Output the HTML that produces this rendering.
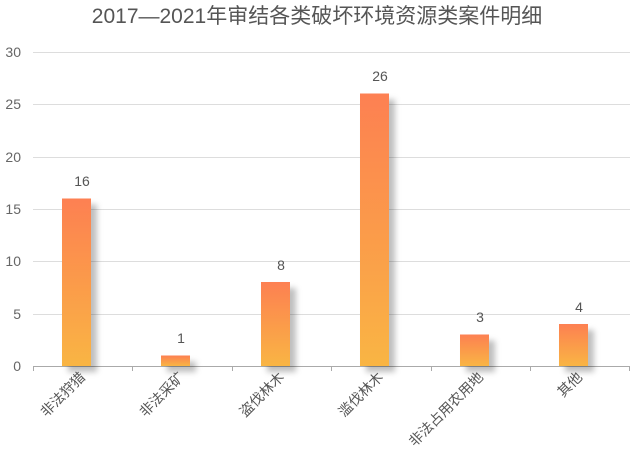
<!DOCTYPE html><html><head><meta charset="utf-8"><style>body{margin:0;background:#fff}</style></head><body>
<svg width="634" height="463" xmlns="http://www.w3.org/2000/svg" font-family="Liberation Sans, Noto Sans CJK SC, sans-serif">
<defs><linearGradient id="g" x1="0" y1="0" x2="0" y2="1"><stop offset="0" stop-color="#fd8052"/><stop offset="1" stop-color="#f9b543"/></linearGradient>
<filter id="s" x="-50%" y="-20%" width="200%" height="150%"><feDropShadow dx="6" dy="6" stdDeviation="3" flood-color="#000" flood-opacity="0.25"/></filter></defs>
<text x="317" y="23" text-anchor="middle" font-size="21" fill="#555">2017—2021年审结各类破坏环境资源类案件明细</text>
<g stroke="#ddd" stroke-width="1">
<line x1="33" x2="630" y1="52.5" y2="52.5"/><line x1="33" x2="630" y1="104.5" y2="104.5"/><line x1="33" x2="630" y1="157.5" y2="157.5"/><line x1="33" x2="630" y1="209.5" y2="209.5"/><line x1="33" x2="630" y1="261.5" y2="261.5"/><line x1="33" x2="630" y1="314.5" y2="314.5"/></g>
<g stroke="#aaa"><line x1="33" x2="630" y1="366.5" y2="366.5"/>
<line x1="33.5" x2="33.5" y1="366" y2="371"/><line x1="132.5" x2="132.5" y1="366" y2="371"/><line x1="232.5" x2="232.5" y1="366" y2="371"/><line x1="331.5" x2="331.5" y1="366" y2="371"/><line x1="431.5" x2="431.5" y1="366" y2="371"/><line x1="530.5" x2="530.5" y1="366" y2="371"/><line x1="629.5" x2="629.5" y1="366" y2="371"/></g>
<g font-size="14" fill="#666" text-anchor="end">
<text x="21" y="371">0</text><text x="21" y="319">5</text><text x="21" y="266">10</text><text x="21" y="214">15</text><text x="21" y="162">20</text><text x="21" y="109">25</text><text x="21" y="57">30</text></g>
<g fill="url(#g)" filter="url(#s)">
<rect x="62" y="198.5" width="29" height="167.5"/>
<rect x="161" y="355.5" width="29" height="10.5"/>
<rect x="261" y="282" width="29" height="84"/>
<rect x="360" y="93.5" width="29" height="272.5"/>
<rect x="460" y="334.5" width="29" height="31.5"/>
<rect x="559" y="324" width="29" height="42"/></g>
<g font-size="14" fill="#555" text-anchor="middle">
<text x="82" y="186">16</text><text x="181" y="343">1</text><text x="281" y="270">8</text><text x="380" y="81">26</text><text x="480" y="322">3</text><text x="579" y="312">4</text></g>
<g font-size="14" fill="#555" text-anchor="end">
<text transform="translate(86,378) rotate(-45)">非法狩猎</text>
<text transform="translate(185,378) rotate(-45)">非法采矿</text>
<text transform="translate(285,378) rotate(-45)">盗伐林木</text>
<text transform="translate(384,378) rotate(-45)">滥伐林木</text>
<text transform="translate(484,378) rotate(-45)">非法占用农用地</text>
<text transform="translate(583,378) rotate(-45)">其他</text></g>
</svg></body></html>
